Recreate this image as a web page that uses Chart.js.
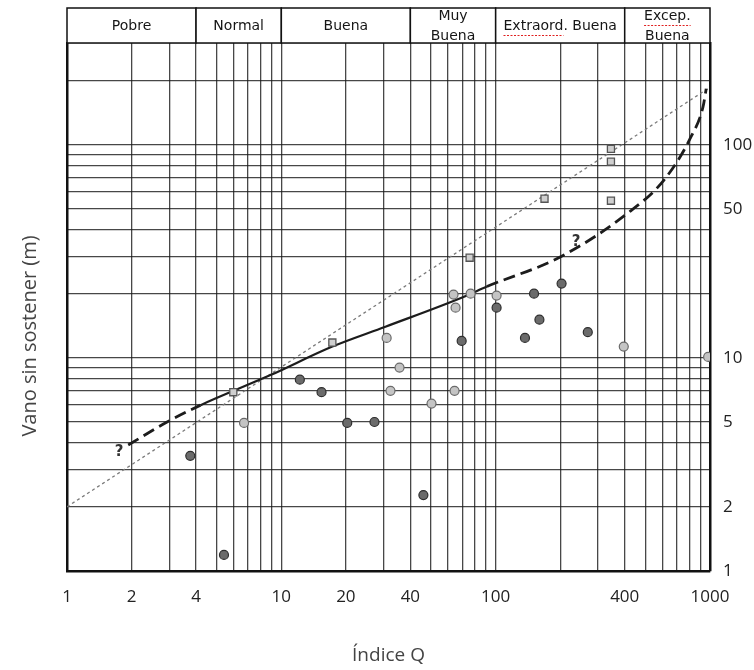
<!DOCTYPE html>
<html>
<head>
<meta charset="utf-8">
<script src="https://cdn.jsdelivr.net/npm/chart.js@4.4.0/dist/chart.umd.min.js"></script>
<style>
  html, body { margin: 0; padding: 0; background: #fff; }
  #wrap { width: 754px; height: 670px; }
</style>
</head>
<body>
<div id="wrap"><canvas id="myChart" width="754" height="670"></canvas></div>
<script>
// header classes, bounded by Q values
const headerNames = [`Pobre`, `Normal`, `Buena`, `Muy\nBuena`, `Extraord. Buena`, `Excep.\nBuena`];
const headerEdges = [1, 4, 10, 40, 100, 400, 1000];

// grid lines and printed tick labels
const xTicks = [1, 2, 3, 4, 5, 6, 7, 8, 9, 10, 20, 30, 40, 50, 60, 70, 80, 90, 100, 200, 300, 400, 500, 600, 700, 800, 900, 1000];
const xLabels = [1, 2, 4, 10, 20, 40, 100, 400, 1000];
const yTicks = [1, 2, 3, 4, 5, 6, 7, 8, 9, 10, 20, 30, 40, 50, 60, 70, 80, 90, 100, 200, 300];
const yLabels = [1, 2, 5, 10, 50, 100];

// dark dots
const darkQ = [3.76, 5.4, 12.2, 15.4, 20.3, 27.2, 46, 69.4, 101, 151, 203, 160, 137, 269];
const darkV = [3.47, 1.19, 7.9, 6.9, 4.95, 5.0, 2.27, 12.0, 17.2, 20.0, 22.3, 15.1, 12.4, 13.2];
// pale dots
const paleQ = [6.7, 31, 35.6, 32.3, 50.2, 63.6, 65, 64.3, 76.4, 101, 396, 980];
const paleV = [4.95, 12.4, 9.0, 7.0, 6.1, 19.8, 17.2, 7.0, 20.0, 19.6, 11.3, 10.1];
// squares
const squareQ = [5.97, 17.3, 75.6, 169, 345, 345, 345];
const squareV = [6.9, 11.8, 29.5, 55.8, 95.7, 83.2, 54.6];

// thick curve (solid between 4.2 and 91, dashed outside)
const curveQ = [1.93, 2.93, 4.2, 8.9, 17.3, 30.6, 70.7, 91, 201, 415, 611, 816, 927, 960];
const curveV = [3.9, 5.0, 6.0, 8.3, 11.3, 14.0, 19.3, 21.6, 29.8, 47.9, 68.4, 109, 150, 183];
const solidFrom = 4.2;
const solidTo = 91;

// thin dotted straight line
const dottedQ = [1, 1000];
const dottedV = [2, 186];

// question marks on the curve
const askQ = [1.75, 237];
const askV = [3.62, 35];

const pts = (qs, vs) => qs.map((q, i) => ({ x: q, y: vs[i] }));

const gridCol = `rgba(25,25,25,0.8)`;
const isDashed = (c) => c.p0.parsed.x < solidFrom || c.p0.parsed.x >= solidTo;

const headerPlugin = {
  id: `header`,
  afterDatasetsDraw(chart) {
    const ctx = chart.ctx;
    const xs = chart.scales.x;
    const ys = chart.scales.y;
    ctx.save();
    ctx.fillStyle = `#333`;
    ctx.font = `bold 15px "DejaVu Sans"`;
    ctx.textAlign = `center`;
    ctx.textBaseline = `middle`;
    askQ.forEach((q, i) => {
      ctx.fillText(`?`, xs.getPixelForValue(q), ys.getPixelForValue(askV[i]));
    });
    ctx.restore();
  },
  afterDraw(chart) {
    const ctx = chart.ctx;
    const xs = chart.scales.x;
    const top = 8;
    const bottom = chart.chartArea.top;
    const mid = (top + bottom) / 2;
    ctx.save();
    ctx.font = `14px "DejaVu Sans"`;
    ctx.textAlign = `center`;
    ctx.textBaseline = `middle`;
    for (let i = 0; i < headerNames.length; i++) {
      const x0 = xs.getPixelForValue(headerEdges[i]);
      const x1 = xs.getPixelForValue(headerEdges[i + 1]);
      ctx.fillStyle = `#fff`;
      ctx.fillRect(x0, top, x1 - x0, bottom - top);
      ctx.strokeStyle = `#111`;
      ctx.lineWidth = 1.5;
      ctx.strokeRect(x0, top, x1 - x0, bottom - top);
      const lines = headerNames[i].split(`\n`);
      const cx = (x0 + x1) / 2;
      lines.forEach((t, k) => {
        const cy = lines.length === 1 ? mid + 1 : mid + (k === 0 ? -9 : 11);
        ctx.fillStyle = `#151515`;
        ctx.fillText(t, cx, cy);
        // red spell-check dots under some words
        const word = t.startsWith(`Extraord`) ? `Extraord` : (t === `Excep.` ? `Excep.` : null);
        if (word) {
          const full = ctx.measureText(t).width;
          const w = ctx.measureText(word).width;
          const sx = cx - full / 2;
          ctx.strokeStyle = `#e02020`;
          ctx.lineWidth = 1.2;
          ctx.setLineDash([2, 1.5]);
          ctx.beginPath();
          ctx.moveTo(sx, cy + 9);
          ctx.lineTo(sx + w, cy + 9);
          ctx.stroke();
          ctx.setLineDash([]);
        }
      });
    }
    // y title on the left
    ctx.translate(30, 336);
    ctx.rotate(-Math.PI / 2);
    ctx.fillStyle = `#444`;
    ctx.font = `20px "Open Sans"`;
    ctx.fillText(`Vano sin sostener (m)`, 0, 0);
    ctx.restore();
  }
};

const myChart = document.querySelector(`#myChart`).getContext(`2d`);
const chart = new Chart(myChart, {
  type: `scatter`,
  data: {
    datasets: [
      {
        label: `squares`,
        data: pts(squareQ, squareV),
        pointStyle: `rect`,
        pointRadius: 5,
        backgroundColor: `#cfcfcf`,
        borderColor: `#555`,
        borderWidth: 1.3
      },
      {
        label: `dark`,
        data: pts(darkQ, darkV),
        pointRadius: 4.5,
        backgroundColor: `#6b6b6b`,
        borderColor: `#2e2e2e`,
        borderWidth: 1.2
      },
      {
        label: `pale`,
        data: pts(paleQ, paleV),
        pointRadius: 4.5,
        backgroundColor: `#c4c4c4`,
        borderColor: `#6a6a6a`,
        borderWidth: 1.2
      },
      {
        label: `curve`,
        data: pts(curveQ, curveV),
        showLine: true,
        pointRadius: 0,
        borderColor: `#1c1c1c`,
        borderWidth: 2.3,
        cubicInterpolationMode: `monotone`,
        segment: {
          borderDash: (c) => isDashed(c) ? [12, 6] : [],
          borderWidth: (c) => isDashed(c) ? 2.8 : 2.2
        }
      },
      {
        label: `dotted`,
        data: pts(dottedQ, dottedV),
        showLine: true,
        pointRadius: 0,
        borderColor: `#7a7a7a`,
        borderWidth: 1.3,
        borderDash: [3, 3]
      }
    ]
  },
  options: {
    responsive: false,
    animation: false,
    layout: { padding: { top: 43 } },
    plugins: {
      legend: { display: false },
      tooltip: { enabled: false }
    },
    scales: {
      x: {
        type: `logarithmic`,
        position: `bottom`,
        min: 1,
        max: 1000,
        afterBuildTicks: (s) => { s.ticks = xTicks.map((v) => ({ value: v })); },
        afterFit: (s) => { s.height = 99; },
        grid: { color: gridCol, lineWidth: 1.3, drawTicks: false },
        border: { display: true, color: `#111`, width: 2.5 },
        ticks: {
          autoSkip: false,
          maxRotation: 0,
          padding: 16,
          color: `#222`,
          font: { family: `Open Sans`, size: 17 },
          callback: (v) => xLabels.includes(v) ? String(v) : ``
        },
        title: {
          display: true,
          text: `Índice Q`,
          color: `#444`,
          font: { family: `Open Sans`, size: 19 },
          padding: { top: 0, bottom: 3 }
        }
      },
      y: {
        type: `logarithmic`,
        position: `right`,
        min: 1,
        max: 300,
        afterBuildTicks: (s) => { s.ticks = yTicks.map((v) => ({ value: v })); },
        afterFit: (s) => { s.width = 44; },
        grid: { color: gridCol, lineWidth: 1.3, drawTicks: false },
        border: { display: true, color: `#111`, width: 2.5 },
        ticks: {
          autoSkip: false,
          padding: 13,
          color: `#222`,
          font: { family: `Open Sans`, size: 17 },
          callback: (v) => yLabels.includes(v) ? String(v) : ``
        }
      },
      yLeft: {
        type: `linear`,
        position: `left`,
        afterFit: (s) => { s.width = 67; },
        grid: { display: false, drawTicks: false },
        border: { display: true, color: `#111`, width: 2.5 },
        ticks: { display: false }
      }
    }
  },
  plugins: [headerPlugin]
});
</script>
</body>
</html>
